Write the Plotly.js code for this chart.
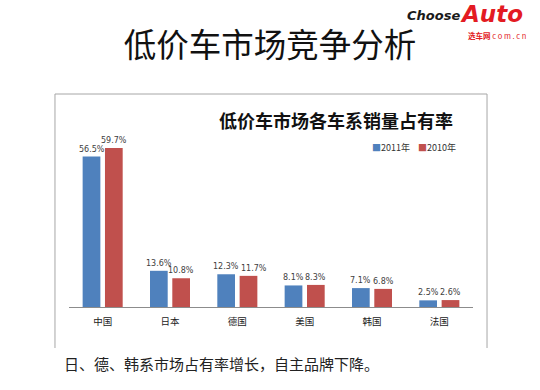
<!DOCTYPE html>
<html>
<head>
<meta charset="utf-8">
<script src="https://cdn.plot.ly/plotly-3.0.1.min.js"></script>
<style>html,body{margin:0;padding:0;background:#fff;}#chart{width:540px;height:390px;}</style>
</head>
<body>
<div id="chart"></div>
<script>
var categories = ['中国', '日本', '德国', '美国', '韩国', '法国'];
var series2011 = [56.5, 13.6, 12.3, 8.1, 7.1, 2.5];
var series2010 = [59.7, 10.8, 11.7, 8.3, 6.8, 2.6];
var seriesNames = ['2011年', '2010年'];
var seriesColors = ['#4F81BD', '#C0504D'];
var pageTitle = '低价车市场竞争分析';
var chartTitle = '低价车市场各车系销量占有率';
var caption = '日、德、韩系市场占有率增长，自主品牌下降。';

function fmt(v) { return v.toFixed(1) + '%'; }

var W = 540, H = 390;
var margin = {l: 69, r: 67, t: 130, b: 83};
var yMax = 66.5;
var bargap = 0.337, bargroupgap = 0.206;
var plotW = W - margin.l - margin.r, plotH = H - margin.t - margin.b;
var catPx = plotW / categories.length;
var slot = (1 - bargap) / 2;            // in category units
var pxPerUnit = plotH / yMax;

var traces = [series2011, series2010].map(function (vals, i) {
  return {
    type: 'bar', x: categories.map(function (c, k) { return k; }), y: vals, name: seriesNames[i],
    marker: {color: seriesColors[i]}, hoverinfo: 'skip'
  };
});

// value labels placed through the axes; nudge apart when two labels would collide
var labelFontFamily = 'DejaVu Sans, sans-serif', labelSize = 8;
var ctx = document.createElement('canvas').getContext('2d');
ctx.font = labelSize + 'px "DejaVu Sans"';
var labelAnns = [];
categories.forEach(function (c, k) {
  var a = series2011[k], b = series2010[k];
  var ta = fmt(a), tb = fmt(b);
  var wa = ctx.measureText(ta).width, wb = ctx.measureText(tb).width;
  var sep = slot * catPx;
  var overlapX = (wa + wb) / 2 - sep;
  var dy = Math.abs(a - b) * pxPerUnit;
  var shift = (overlapX > 0 && dy < 7) ? overlapX + 2.5 : 0;
  [[a, ta, -1, 0], [b, tb, 1, shift]].forEach(function (d) {
    labelAnns.push({
      x: k + d[2] * slot / 2, y: d[0], xref: 'x', yref: 'y', text: d[1],
      xanchor: 'center', yanchor: 'bottom', yshift: 1, xshift: d[3], showarrow: false,
      font: {family: labelFontFamily, size: labelSize, color: '#404040'}
    });
  });
});

var cjk = 'Noto Sans CJK SC, sans-serif';
var legendText = seriesNames.map(function (n, i) {
  return '<span style="color:' + seriesColors[i] + '">■</span>' + n;
}).join('    ');

function py(px) { return (H - margin.b - px) / plotH; }   // page pixel row -> paper y

var layout = {
  width: W, height: H,
  margin: margin,
  paper_bgcolor: '#ffffff', plot_bgcolor: '#ffffff',
  showlegend: false,
  barmode: 'group', bargap: bargap, bargroupgap: bargroupgap,
  title: {text: pageTitle, x: 0.5, xref: 'container', y: 1 - 45.5 / 390, yanchor: 'middle',
          font: {family: cjk, size: 32.5, color: '#111111'}},
  xaxis: {showline: true, linecolor: '#8C8C8C', linewidth: 1, ticks: '', showgrid: false,
          zeroline: false, range: [-0.5, categories.length - 0.5],
          tickmode: 'array', tickvals: categories.map(function (c, k) { return k; }), ticktext: categories,
          tickfont: {family: cjk, size: 9.5, color: '#222222'}, ticklabelstandoff: 6},
  yaxis: {range: [0, yMax], visible: false, showgrid: false, zeroline: false},
  shapes: [
    {type: 'line', xref: 'paper', yref: 'paper', x0: -0.0347, x1: -0.0347, y0: py(348), y1: py(94), line: {color: '#A6A6A6', width: 1}},
    {type: 'line', xref: 'paper', yref: 'paper', x0: -0.0347, x1: 1.0347, y0: py(94), y1: py(94), line: {color: '#A6A6A6', width: 1}},
    {type: 'line', xref: 'paper', yref: 'paper', x0: 1.0347, x1: 1.0347, y0: py(348), y1: py(94), line: {color: '#A6A6A6', width: 1}}
  ],
  annotations: labelAnns.concat([
    {text: '<b>' + chartTitle + '</b>', xref: 'paper', yref: 'paper', x: 0.661, y: py(120),
     xanchor: 'center', yanchor: 'middle', showarrow: false, font: {family: cjk, size: 18, color: '#111111'}},
    {text: legendText, xref: 'paper', yref: 'paper', x: 0.854, y: py(147), xanchor: 'center', yanchor: 'middle',
     showarrow: false, font: {family: cjk, size: 9, color: '#333333'}},
    {text: caption, xref: 'paper', yref: 'paper', x: -0.017, y: py(363), xanchor: 'left', yanchor: 'middle',
     showarrow: false, font: {family: cjk, size: 15, color: '#222222'}},
    {text: '<b><i>Choose</i></b>', xref: 'paper', yref: 'paper', x: 0.973, y: py(15), xanchor: 'right', yanchor: 'middle',
     showarrow: false, font: {family: 'DejaVu Sans, sans-serif', size: 13, color: '#1a1a1a'}},
    {text: '<b><i>Auto</i></b>', xref: 'paper', yref: 'paper', x: 0.966, y: py(0), xanchor: 'left', yanchor: 'top',
     borderpad: 0, showarrow: false, font: {family: 'DejaVu Sans, sans-serif', size: 23, color: '#E31B23'}},
    {text: '<b>选车网</b> c o m . c n', xref: 'paper', yref: 'paper', x: 0.984, y: py(29), xanchor: 'left', yanchor: 'top',
     borderpad: 0, showarrow: false, font: {family: cjk, size: 7.5, color: '#E31B23'}}
  ])
};

Plotly.newPlot('chart', traces, layout, {staticPlot: true, displayModeBar: false});
</script>
</body>
</html>
